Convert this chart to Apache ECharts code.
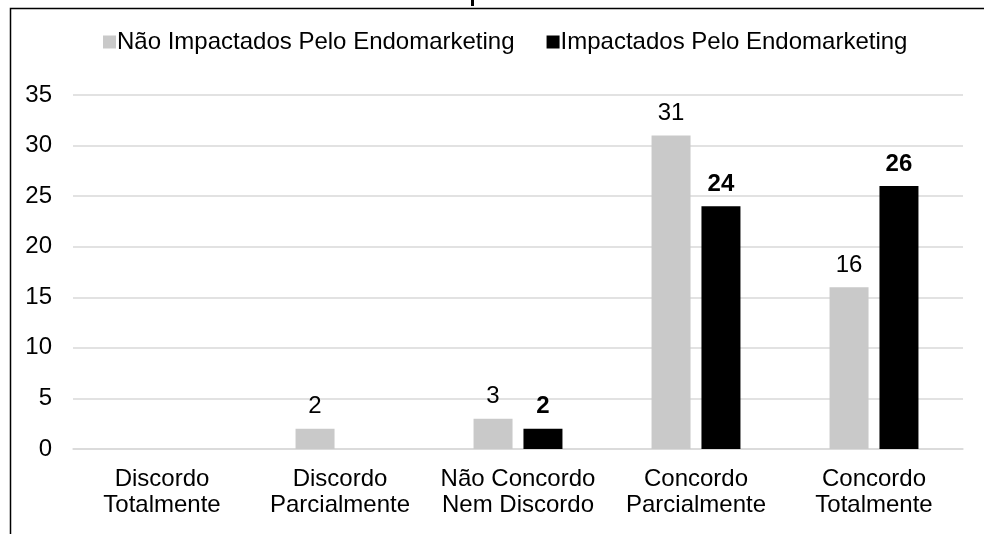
<!DOCTYPE html>
<html>
<head>
<meta charset="utf-8">
<script src="https://cdn.jsdelivr.net/npm/echarts@6/dist/echarts.min.js"></script>
<style>
html,body{margin:0;padding:0;background:#fff;}
#chart{width:984px;height:534px;}
</style>
</head>
<body>
<div id="chart"></div>
<script>
const categories = ['Discordo\nTotalmente', 'Discordo\nParcialmente', 'Não Concordo\nNem Discordo', 'Concordo\nParcialmente', 'Concordo\nTotalmente'];
const seriesNames = ['Não Impactados Pelo Endomarketing', 'Impactados Pelo Endomarketing'];
const naoImpactados = [null, 2, 3, 31, 16];
const impactados = [null, null, 2, 24, 26];
const yTicks = { min: 0, max: 35, interval: 5 };

const FONT = '"Liberation Sans", Arial, sans-serif';
const chart = echarts.init(document.getElementById('chart'), null, { renderer: 'canvas' });
chart.setOption({
  backgroundColor: '#fff',
  animation: false,
  textStyle: { fontFamily: FONT, color: '#000' },
  graphic: [
    { type: 'rect', left: 8, top: 6, shape: { x: 0, y: 0, width: 1000, height: 600 },
      style: { fill: 'none', stroke: '#000', lineWidth: 1.5 }, z: -1, silent: true },
    { type: 'rect', shape: { x: 471, y: 0, width: 3, height: 6 }, style: { fill: '#000' }, silent: true }
  ],
  legend: {
    left: 98, top: 25,
    itemWidth: 13, itemHeight: 13, itemGap: 32,
    icon: 'rect',
    textStyle: { fontFamily: FONT, fontSize: 24, color: '#000', padding: [0, 0, 0, -4] },
    data: seriesNames
  },
  grid: { left: 73, right: 21, top: 95, bottom: 85, containLabel: false },
  xAxis: {
    type: 'category',
    data: categories,
    axisLine: { show: true, lineStyle: { color: '#D9D9D9', width: 1.5 } },
    axisTick: { show: false },
    axisLabel: { fontFamily: FONT, fontSize: 24, color: '#000', margin: 17, lineHeight: 26, interval: 0 }
  },
  yAxis: {
    type: 'value',
    min: yTicks.min, max: yTicks.max, interval: yTicks.interval,
    axisLine: { show: false },
    axisTick: { show: false },
    splitLine: { lineStyle: { color: '#D9D9D9', width: 1.5 } },
    axisLabel: { fontFamily: FONT, fontSize: 24, color: '#000', margin: 21 }
  },
  series: [
    {
      name: seriesNames[0], type: 'bar', data: naoImpactados,
      barWidth: 39, barGap: '28%',
      itemStyle: { color: '#C9C9C9' },
      label: { show: true, position: 'top', distance: 10, fontFamily: FONT, fontSize: 24, color: '#000' }
    },
    {
      name: seriesNames[1], type: 'bar', data: impactados,
      barWidth: 39, barGap: '28%',
      itemStyle: { color: '#000' },
      label: { show: true, position: 'top', distance: 10, fontFamily: FONT, fontSize: 24, fontWeight: 'bold', color: '#000' }
    }
  ]
});
</script>
</body>
</html>
